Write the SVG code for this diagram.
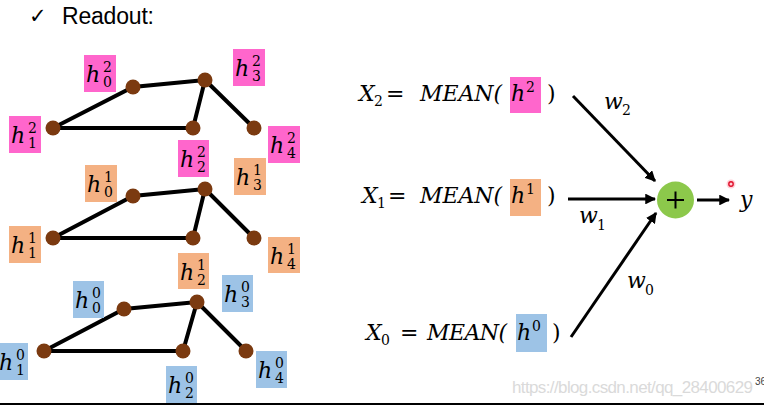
<svg xmlns="http://www.w3.org/2000/svg" width="764" height="406" viewBox="0 0 764 406">
<style>
.m{font-family:"DejaVu Serif","Liberation Serif",serif;font-style:italic;font-size:22px;fill:#000}
.d{font-family:"DejaVu Serif","Liberation Serif",serif;font-size:14px;fill:#000}
.u{font-family:"DejaVu Serif","Liberation Serif",serif;font-size:22px;fill:#000}
.e{stroke:#000;stroke-width:4;stroke-linecap:round;fill:none}
.v{fill:#7B3A10}
.pk{fill:#FF66CC}
.or{fill:#F4B183}
.bl{fill:#9DC3E6}
.a{stroke:#000;stroke-width:3;fill:none;marker-end:url(#ah)}
</style>
<defs>
<marker id="ah" viewBox="0 0 10 10" refX="9" refY="5" markerWidth="3.6" markerHeight="3.6" orient="auto" markerUnits="strokeWidth">
<path d="M0,0 L10,5 L0,10 z" fill="#000"/>
</marker>
</defs>
<rect width="764" height="406" fill="#fff"/>
<g id="title">
<text x="29" y="23" style="font-family:'DejaVu Sans',sans-serif;font-size:21px">✓</text>
<text x="62" y="24" textLength="92" style="font-family:'Liberation Sans',Arial,sans-serif;font-size:23px">Readout:</text>
</g>
<g id="edges">
<path class="e" d="M53,128 L133,87 L205,80 L193,128 L53,128 M205,80 L254,128"/>
<path class="e" d="M53,238 L133,196 L205,189 L193,238 L53,238 M205,189 L254,238"/>
<path class="e" d="M44,351 L124,309 L197,302 L183,351 L44,351 M197,302 L246,351"/>
</g>
<g id="g2">
<g id="n2_0"><circle class="v" cx="133" cy="87" r="7.5"/><rect class="pk" x="84" y="55" width="32" height="37"/><text class="m" x="86" y="82">h</text><text class="d" x="103" y="72">2</text><text class="d" x="103" y="87">0</text></g>
<g id="n2_1"><circle class="v" cx="53" cy="128" r="7.5"/><rect class="pk" x="9" y="116" width="32" height="37"/><text class="m" x="11" y="143">h</text><text class="d" x="28" y="133">2</text><text class="d" x="28" y="148">1</text></g>
<g id="n2_2"><circle class="v" cx="193" cy="128" r="7.5"/><rect class="pk" x="178" y="140" width="31" height="37"/><text class="m" x="180" y="167">h</text><text class="d" x="197" y="157">2</text><text class="d" x="197" y="172">2</text></g>
<g id="n2_3"><circle class="v" cx="205" cy="80" r="7.5"/><rect class="pk" x="233" y="49" width="32" height="37"/><text class="m" x="235" y="76">h</text><text class="d" x="252" y="66">2</text><text class="d" x="252" y="81">3</text></g>
<g id="n2_4"><circle class="v" cx="254" cy="128" r="7.5"/><rect class="pk" x="268" y="126" width="32" height="37"/><text class="m" x="270" y="153">h</text><text class="d" x="287" y="143">2</text><text class="d" x="287" y="158">4</text></g>
</g>
<g id="g1">
<g id="n1_0"><circle class="v" cx="133" cy="196" r="7.5"/><rect class="or" x="85" y="165" width="32" height="37"/><text class="m" x="87" y="192">h</text><text class="d" x="104" y="182">1</text><text class="d" x="104" y="197">0</text></g>
<g id="n1_1"><circle class="v" cx="53" cy="238" r="7.5"/><rect class="or" x="9" y="226" width="32" height="37"/><text class="m" x="11" y="253">h</text><text class="d" x="28" y="243">1</text><text class="d" x="28" y="258">1</text></g>
<g id="n1_2"><circle class="v" cx="193" cy="238" r="7.5"/><rect class="or" x="178" y="253" width="31" height="36"/><text class="m" x="180" y="280">h</text><text class="d" x="197" y="270">1</text><text class="d" x="197" y="285">2</text></g>
<g id="n1_3"><circle class="v" cx="205" cy="189" r="7.5"/><rect class="or" x="234" y="158" width="32" height="37"/><text class="m" x="236" y="185">h</text><text class="d" x="253" y="175">1</text><text class="d" x="253" y="190">3</text></g>
<g id="n1_4"><circle class="v" cx="254" cy="238" r="7.5"/><rect class="or" x="268" y="237" width="32" height="36"/><text class="m" x="270" y="264">h</text><text class="d" x="287" y="254">1</text><text class="d" x="287" y="269">4</text></g>
</g>
<g id="g0">
<g id="n0_0"><circle class="v" cx="124" cy="309" r="7.5"/><rect class="bl" x="73" y="281" width="31" height="37"/><text class="m" x="75" y="308">h</text><text class="d" x="92" y="298">0</text><text class="d" x="92" y="313">0</text></g>
<g id="n0_1"><circle class="v" cx="44" cy="351" r="7.5"/><rect class="bl" x="-4" y="343" width="32" height="37"/><text class="m" x="-1" y="370">h</text><text class="d" x="16" y="360">0</text><text class="d" x="16" y="375">1</text></g>
<g id="n0_2"><circle class="v" cx="183" cy="351" r="7.5"/><rect class="bl" x="166" y="366" width="31" height="38"/><text class="m" x="168" y="393">h</text><text class="d" x="185" y="383">0</text><text class="d" x="185" y="398">2</text></g>
<g id="n0_3"><circle class="v" cx="197" cy="302" r="7.5"/><rect class="bl" x="222" y="275" width="31" height="37"/><text class="m" x="224" y="302">h</text><text class="d" x="241" y="292">0</text><text class="d" x="241" y="307">3</text></g>
<g id="n0_4"><circle class="v" cx="246" cy="351" r="7.5"/><rect class="bl" x="256" y="351" width="31" height="37"/><text class="m" x="258" y="378">h</text><text class="d" x="275" y="368">0</text><text class="d" x="275" y="383">4</text></g>
</g>
<g id="x2">
<rect class="pk" x="510" y="77" width="31" height="36"/>
<text class="m" x="359" y="101" textLength="17">X</text><text class="d" x="374" y="106">2</text>
<text class="u" x="386" y="101" textLength="15">=</text>
<text class="m" x="420" y="101" textLength="82">MEAN(</text>
<text class="m" x="511" y="101">h</text><text class="d" x="526" y="92">2</text>
<text class="u" x="547" y="101">)</text>
</g>
<g id="x1">
<rect class="or" x="510" y="179" width="31" height="37"/>
<text class="m" x="362" y="203" textLength="17">X</text><text class="d" x="377" y="208">1</text>
<text class="u" x="388" y="203" textLength="15">=</text>
<text class="m" x="420" y="203" textLength="82">MEAN(</text>
<text class="m" x="511" y="203">h</text><text class="d" x="526" y="194">1</text>
<text class="u" x="547" y="203">)</text>
</g>
<g id="x0">
<rect class="bl" x="516" y="314" width="31" height="38"/>
<text class="m" x="366" y="340" textLength="17">X</text><text class="d" x="381" y="345">0</text>
<text class="u" x="400" y="340" textLength="15">=</text>
<text class="m" x="427" y="340" textLength="80">MEAN(</text>
<text class="m" x="517" y="340">h</text><text class="d" x="532" y="331">0</text>
<text class="u" x="552" y="340">)</text>
</g>
<g id="connectors">
<line class="a" x1="573" y1="96" x2="655" y2="181"/>
<line class="a" x1="568" y1="199" x2="655" y2="199"/>
<line class="a" x1="571" y1="337" x2="656" y2="213"/>
<line class="a" x1="697" y1="200" x2="729" y2="200"/>
</g>
<g id="wlabels">
<text class="m" x="604" y="109">w</text><text class="d" x="622" y="115">2</text>
<text class="m" x="579" y="223">w</text><text class="d" x="597" y="230">1</text>
<text class="m" x="627" y="288">w</text><text class="d" x="645" y="295">0</text>
</g>
<g id="sum">
<circle cx="675.5" cy="200" r="18.5" fill="#8CC84B"/>
<path d="M667,200 H684 M675.5,191.5 V208.5" stroke="#000" stroke-width="2"/>
</g>
<g id="out">
<text class="m" x="740" y="207">y</text>
</g>
<circle cx="731" cy="184" r="4.5" fill="#FFD0D8"/>
<circle cx="731" cy="184" r="2.2" fill="none" stroke="#E0102A" stroke-width="1.4"/>
<text x="512" y="393" textLength="241" style="font-family:'Liberation Sans',Arial,sans-serif;font-size:17px;fill:#DADADA">https://blog.csdn.net/qq_28400629</text>
<text x="755" y="385" style="font-family:'Liberation Sans',Arial,sans-serif;font-size:10px;fill:#444">36</text>
<line x1="0" y1="404" x2="764" y2="404" stroke="#000" stroke-width="2"/>
</svg>
